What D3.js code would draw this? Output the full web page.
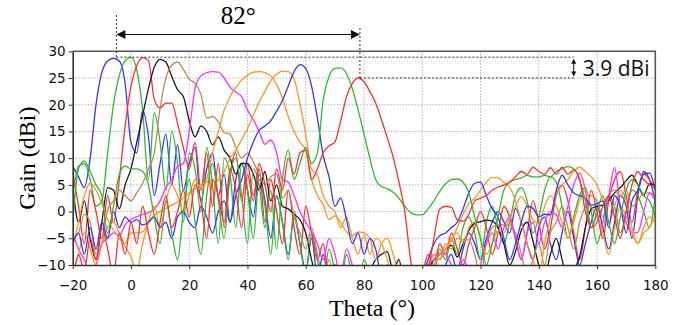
<!DOCTYPE html>
<html>
<head>
<meta charset="utf-8">
<script src="https://cdn.jsdelivr.net/npm/d3@7"></script>
<style>
  body { margin: 0; background: #fff; }
  svg { display: block; }
</style>
</head>
<body>
<div id="chart"></div>
<script>
// sample angles: every 2 degrees from -20 to 180
const thetaStart = -20, thetaEnd = 180, thetaStep = 2;
const xTicks = [-20, 0, 20, 40, 60, 80, 100, 120, 140, 160, 180];
const yTicks = [-10, -5, 0, 5, 10, 15, 20, 25, 30];

// gain (dBi) per beam
const blueA = [
  8.5, 6.5, 4.5, 10, 20, 26, 28.2, 28.7, 28.2, 24,
  13, 11, 19, 14, 3, 9, 14.5, 5, 12.5, 4,
  9, 12, 2, 8, 11, 3, 7, -2, 6, 9,
  4, -1, 7, 2, -5, 3, -2, -8, -1, -6,
  -11, -5, -12, -8, -13, -10, -14, -11, -13, -15,
  -13, -11, -14, -12, -15, -13, -12, -14, -15, -13,
  -12, -14, -11, -13, -10, -8, -11, -7, -4, -6,
  -9, -5, -2, 0, -1.9, -4, 0.6, -2, -6, -9,
  -3, -1, -6, -9, -4, 0, -5, -10, -6, -2,
  1, -3, -7, -2, 3, 1, -5, 3, 7.5, 6,
  2];
const greenA = [
  3, 8.5, 9, 6, 1, 2, 11, 20, 25.5, 28.2,
  28.9, 26.5, 19, 6, 18.5, 13, 4, 15, 9, -2,
  11, 8, 0, 12, 5, -6, 10, 7, -3, 9,
  4, -5, 6, 1, -8, 3, -2, -9, 0, -6,
  -12, -4, -9, -13, -7, -11, -14, -8, -12, -14,
  -9, -12, -14, -10, -13, -15, -11, -13, -15, -12,
  -13, -10, -12, -7, -9, -5, -8, -3, -1, -4,
  -9, -2, 1, -3, -6, -2, 3, 4.5, 2, -4,
  -1, 4, 6.5, 5.5, 1, -5, -1, 3, 4.5, 0,
  -6, -2, 3, 1, -4, 0, 4, 3, 0, -3,
  3];
const redA = [
  7.5, 1, -6, 4, 0, -5, 3, -2, 6, 16,
  23.5, 27.3, 28.8, 28.3, 21, 19.4, 20.3, 20.3, 16.5, 12,
  8, 13, 4, 11, 1, 9, -3, 7, 11, 2,
  9, 3, 8, -2, 6, 0, -6, 4, -3, -8,
  1, -4, -9, -6, -12, -10, -13, -14, -11, -13,
  -14, -12, -15, -13, -11, -14, -15, -13, -12, -14,
  -12, -8, -10, -6, -8, -4, -7, -10, -6, -3,
  0, -3, -8, -4, 1, -1, -5, -9, -4, 2,
  -2, -7, -3, 3, 5, 2, -4, -9, -3, 4,
  0, -5, 2, 6, 7.5, 3, -2, 4, 7, 6,
  4];
const black = [
  5, -2, 2, -5, -9, -2, 4.5, 4, 0.5, 5,
  8, 13, 18, 23, 27, 28.5, 28, 25.3, 22.8, 21.5,
  17, 14, 16, 15, 12.5, 14, 11.5, 10, 7, 9,
  9, 7, 4, 7.5, 2, 5, 1, 0.5, -0.5, -1.5,
  -4, -9, -13, -11, -14, -12, -15, -13, -14, -12,
  -13, -11, -9, -8, -7.5, -11, -9, -14, -13, -15,
  -14, -11, -9, -8, -7, -6.3, -8.5, -6, -3.5, -2.2,
  -1.9, -1.6, -1.8, -3, -6, -10, -7.5, -3.5, -2, -5.5,
  -10, -12, -8, -5, -9, -13, -11, -8.5, -3, 0.5,
  1, 1.2, 2, 3.5, 4.5, 5.8, 6.8, 5, 3, 5.2,
  5];
const brown = [
  -5, -4, -0.5, -2, -8, -6, 0.3, 2, 4, 3,
  2, 3.5, 5.3, 8, 11, 19.4, 25, 27.4, 28, 26.6,
  24.8, 24, 22, 17.5, 17.8, 16.8, 14.8, 14.5, 12, 10,
  11, 9.3, 7, 5, 6.5, 7, 2.5, 4, -1, -4,
  -7, -3, -8, -12, -9, -14, -11, -13, -15, -12,
  -14, -13, -11, -15, -13, -14, -12, -15, -13, -14,
  -12, -10, -8, -9, -6, -7, -5, -5.3, -5.3, -8,
  -12, -6, -3, -2.5, -2.5, -2.5, -4, -8, -12, -9,
  -6, -10, -4, -2, 1, -3, -7, -2, 1, 3,
  2, -1, 3, 4, 3, 4, 1, 2, 3.5, 3.5,
  3];
const magenta = [
  -4, -7, -9, -12, -10, -6, -5, -4, -4.5, -2.5,
  -1.5, -1, -0.5, -0.2, 0.5, 2, 4.5, 6, 8.5, 9,
  15, 23, 25.4, 26, 26.2, 26.1, 25, 23.3, 22.4, 21.5,
  19, 17.2, 15, 12.6, 13.4, 11, 6, 5.5, 3, 0,
  -2, -3.8, -6, -9, -5, -8, -12, -7, -10, -13,
  -12, -14, -13, -15, -12, -14, -13, -15, -12, -14,
  -13, -10, -9, -7.8, -8, -10, -12, -9, -11, -13,
  -10, -6, -4, -7, -3, -1, -5, -9, -4, -2,
  -6, -2, 0, -0.6, -3, 1, 5, 7.2, 4, -3,
  -1, -3.3, 3, 8.2, 1, -2, -4, -3.9, 0, 3.5,
  2];
const orangeA = [
  -6.6, -2, 3, 5.3, 4, 1.5, -1.5, -3.5, -5, -6.5,
  -8.5, -11, -6, -2, 1, -3, 2, 5, 3, 0,
  3, 6, 4, 6, 11, 15, 19, 21.5, 23.2, 24.6,
  25.5, 26.1, 26.2, 26, 25.4, 23.8, 21.2, 17.8, 15, 13,
  11.5, 6, 3, 1.3, -1.5, -0.8, -2, -3.8, -4.5, -3.8,
  -4, -5, -9, -6, -5, -8, -12, -14, -13, -15,
  -14, -12, -10, -8, -7, -5.5, -3, -0.5, 1.5, 2.5,
  4, 5.5, 6.4, 6.3, 5.5, 4.6, 2, -2, -6, -9,
  -12, -6, -1, 3, 5, 6, 7.5, 8.3, 7.5, 6.5,
  5, 2, -2, 1, 4, 2, -3, -6, -4, -3,
  -0.6];
const orangeB = [
  -12, -8, -4, -7, -10, -6, -3, -2, -4, -6,
  -4, -4, -3.8, -2, -0.7, 0, 0.6, 1.2, 1.8, 2.5,
  3.5, 4.3, 5, 5.6, 4.5, 6, 7.5, 10, 11.5, 13.5,
  15.5, 18, 20.5, 22.5, 24.5, 25.7, 26.3, 26.2, 24.8, 20.2,
  14.5, 8, 6.8, 3, 1, 0, -3, -1, -5, -8,
  -4.4, -8, -5, -6, -9, -13, -11, -14, -12, -15,
  -13, -11, -8, -9, -7, -5, -4, -6, -3, -2,
  -5, -8, -6, -3.5, -4, -1, 1, 2.8, 1, -1.5,
  -2.2, 1, 3, 1, -2, -5, -2, 2, 4, 1,
  -1, -4, -8, -3, 1, -1, -4, -6, -3, -1,
  -2];
const blueB = [
  -6, -4, -8, -3, -7, -2, -5, 0, -3, -1,
  -2, -1.5, -2.5, -2, -1, -3, -2, -5, -1, 0,
  -2, -3, 1, -1, -4, 0, 2, -2, 3, 6,
  10, 13, 15.2, 16, 17, 18.8, 20.8, 23.5, 26.2, 27.5,
  26.8, 23.5, 17.5, 10.5, 6.5, 1, 2.5, -1.5, -6, -4,
  -8, -5, -7, -12, -10, -14, -13, -15, -14, -13,
  -12, -9, -6, -4.5, -4, -3, -2, 0.5, 3.5, 5.3,
  5.5, 3, 0.5, -1, -5, -9, -6, -2, 1, 0.6,
  -1, -0.5, -0.6, 4, 6.8, 5, 3.5, 3, 2.5, 1.2,
  1.5, 2, -3, 3, 1, -4, 2, 4, 7, 7.2,
  4];
const greenB = [
  -2, 8, 9.5, 7.5, 5, 3, -4, 1, 7, 8.5,
  8, 8, 7.5, 5, -1, -6, 2, -4, -9, 0,
  6, -2, -8, 3, 9, 2, -5, 7, 10, 3,
  -6, 8, 5, -3, 4, -7, 6, 11.5, 6, 9,
  12, 9, 11, 21, 25.3, 26.8, 26.9, 25.8, 23, 19,
  14.5, 10, 6, 4.7, 4.3, 3.6, 2.5, 1, -0.2, -0.6,
  -0.6, 0.5, 2, 3.8, 5.2, 6, 6.1, 5.5, 3.5, -1,
  -5, -10, -6, -1, 4, 5.5, 6, 6.3, 6.8, 6.5,
  6.5, 6.8, 6.5, 7.5, 8, 8.4, 8, 6, 2, -3,
  0, 3, -2, -6, -1, 4, 6, 5, 3, 2,
  -1];
const redB = [
  -13, -8, -11, -5, -9, -3, -7, -12, -4, -8,
  -2, -6, 1, -4, -8, -2, 3, -3, 0, 4,
  -1, 5, 2, -5, 6, 3, -2, 8, 4, -3,
  7, 2, 9, 5, 0, 8, 4, 10, 7, 11,
  11.5, 6, 8, 11, 12.3, 13, 17, 21.5, 24, 25,
  24.3, 22.5, 20.3, 17.2, 13.8, 10.2, 5.5, 0, -9, -14,
  -14, -11, -5, 0.5, 1, 0.8, -1.5, -1.8, -0.5, 2,
  2.5, 3, 4, 4.6, 5, 5.5, 6.5, 7.5, 7, 8.3,
  7.5, 7, 8.2, 7, 8.3, 7, 7.8, 6, 0, -3,
  -2, 1, 3, -1, -5, 0, 5, 7.5, 6, 5,
  4.7];

// annotation values: 3 dB beam edges and gain drop
const beamLeft = -5, beamRight = 78.6;
const gainTop = 28.9, gainLow = 25;
const scanLabel = "82°", dropLabel = "3.9 dBi", dropAt = 152;

const width = 696, height = 325;
const plot = { left: 72.7, right: 655.3, top: 51.3, bottom: 265 };

const colors = {
  blue: "#3535ff", green: "#33b833", red: "#ff3030", black: "#1a1a1a",
  brown: "#c08a55", magenta: "#ff30ff", orange: "#ff9426"
};

const series = [
  { values: blueA, color: colors.blue },
  { values: greenA, color: colors.green },
  { values: redA, color: colors.red },
  { values: black, color: colors.black },
  { values: brown, color: colors.brown },
  { values: magenta, color: colors.magenta },
  { values: orangeA, color: colors.orange },
  { values: orangeB, color: colors.orange },
  { values: blueB, color: colors.blue },
  { values: greenB, color: colors.green },
  { values: redB, color: colors.red }
];

const theta = d3.range(thetaStart, thetaEnd + 1, thetaStep);

const svg = d3.select("#chart").append("svg")
  .attr("width", width)
  .attr("height", height);

const x = d3.scaleLinear().domain([thetaStart, thetaEnd]).range([plot.left, plot.right]);
const y = d3.scaleLinear().domain([-10, 30]).range([plot.bottom, plot.top]);

svg.append("defs").append("clipPath").attr("id", "plotClip")
  .append("rect")
  .attr("x", plot.left).attr("y", plot.top)
  .attr("width", plot.right - plot.left).attr("height", plot.bottom - plot.top);

// dotted grid
const grid = svg.append("g");
grid.selectAll("line.v")
  .data(xTicks.slice(1, -1))
  .enter().append("line")
  .attr("x1", d => x(d)).attr("x2", d => x(d))
  .attr("y1", plot.top).attr("y2", plot.bottom)
  .attr("stroke", "#b4b4b4").attr("stroke-dasharray", "1.5,1.5");
grid.selectAll("line.h")
  .data(yTicks.slice(1, -1))
  .enter().append("line")
  .attr("x1", plot.left).attr("x2", plot.right)
  .attr("y1", d => y(d)).attr("y2", d => y(d))
  .attr("stroke", "#b4b4b4").attr("stroke-dasharray", "1.5,1.5");

// beams
const line = d3.line()
  .x((d, i) => x(theta[i]))
  .y(d => y(d))
  .curve(d3.curveMonotoneX);

svg.append("g").attr("clip-path", "url(#plotClip)")
  .selectAll("path")
  .data(series)
  .enter().append("path")
  .attr("d", d => line(d.values))
  .attr("fill", "none")
  .attr("stroke", d => d.color)
  .attr("stroke-width", 1.3);

// frame top and right
svg.append("path")
  .attr("d", `M${plot.left},${plot.top}H${plot.right}V${plot.bottom}`)
  .attr("fill", "none").attr("stroke", "#555").attr("stroke-width", 1.6);

// axes
const yAxis = svg.append("g")
  .attr("transform", `translate(${plot.left},0)`)
  .call(d3.axisLeft(y).tickValues(yTicks).tickSize(4).tickPadding(3).tickSizeOuter(0));
const xAxis = svg.append("g")
  .attr("transform", `translate(0,${plot.bottom})`)
  .call(d3.axisBottom(x).tickValues(xTicks).tickSize(4).tickPadding(11).tickSizeOuter(0));

[xAxis, yAxis].forEach(g => {
  g.select(".domain").attr("stroke", "#333").attr("stroke-width", 1.6);
  g.selectAll(".tick line").attr("stroke", "#333");
  g.selectAll("text")
    .attr("fill", "#111")
    .style("font-family", "'DejaVu Sans', sans-serif")
    .style("font-size", "13.5px");
});

// axis titles
svg.append("text")
  .attr("x", (plot.left + plot.right) / 2 + 8).attr("y", 316)
  .attr("text-anchor", "middle")
  .style("font-family", "'Liberation Serif', 'DejaVu Serif', serif")
  .style("font-size", "24px")
  .text("Theta (°)");

svg.append("text")
  .attr("transform", `translate(35,${(plot.top + plot.bottom) / 2}) rotate(-90)`)
  .attr("text-anchor", "middle")
  .style("font-family", "'Liberation Serif', 'DejaVu Serif', serif")
  .style("font-size", "24px")
  .text("Gain (dBi)");

// annotations
const ann = svg.append("g")
  .attr("stroke", "#333").attr("stroke-width", 1).attr("fill", "none");
const dash = "2,2";
const xl = x(beamLeft), xr = x(beamRight), xd = x(dropAt);
const yTop = y(gainTop), yLow = y(gainLow);
const arrowY = 34.5;

ann.append("line").attr("x1", xl).attr("x2", xl).attr("y1", 15).attr("y2", yTop).attr("stroke-dasharray", dash);
ann.append("line").attr("x1", xr).attr("x2", xr).attr("y1", 28).attr("y2", yLow).attr("stroke-dasharray", dash);
ann.append("line").attr("x1", xl).attr("x2", xd).attr("y1", yTop).attr("y2", yTop).attr("stroke-dasharray", dash);
ann.append("line").attr("x1", xr).attr("x2", xd).attr("y1", yLow).attr("y2", yLow).attr("stroke-dasharray", dash);

// horizontal arrow with two heads
svg.append("line")
  .attr("x1", xl + 6).attr("x2", xr - 6)
  .attr("y1", arrowY).attr("y2", arrowY)
  .attr("stroke", "#111").attr("stroke-width", 1.2);
svg.append("path")
  .attr("d", `M${xl},${arrowY}l9,-4.5v9z M${xr},${arrowY}l-9,-4.5v9z`)
  .attr("fill", "#111");

// small vertical double arrow
svg.append("line")
  .attr("x1", xd).attr("x2", xd)
  .attr("y1", yTop + 4).attr("y2", yLow - 4)
  .attr("stroke", "#111").attr("stroke-width", 1);
svg.append("path")
  .attr("d", `M${xd},${yTop + 1.5}l-2.5,5h5z M${xd},${yLow - 1.5}l-2.5,-5h5z`)
  .attr("fill", "#111");

svg.append("text")
  .attr("x", (xl + xr) / 2).attr("y", 24)
  .attr("text-anchor", "middle")
  .style("font-family", "'Liberation Serif', 'DejaVu Serif', serif")
  .style("font-size", "25px")
  .text(scanLabel);

svg.append("text")
  .attr("x", xd + 9).attr("y", 76)
  .style("font-family", "'Open Sans', 'Noto Sans', sans-serif")
  .style("font-size", "21px")
  .attr("fill", "#111")
  .text(dropLabel);
</script>
</body>
</html>
